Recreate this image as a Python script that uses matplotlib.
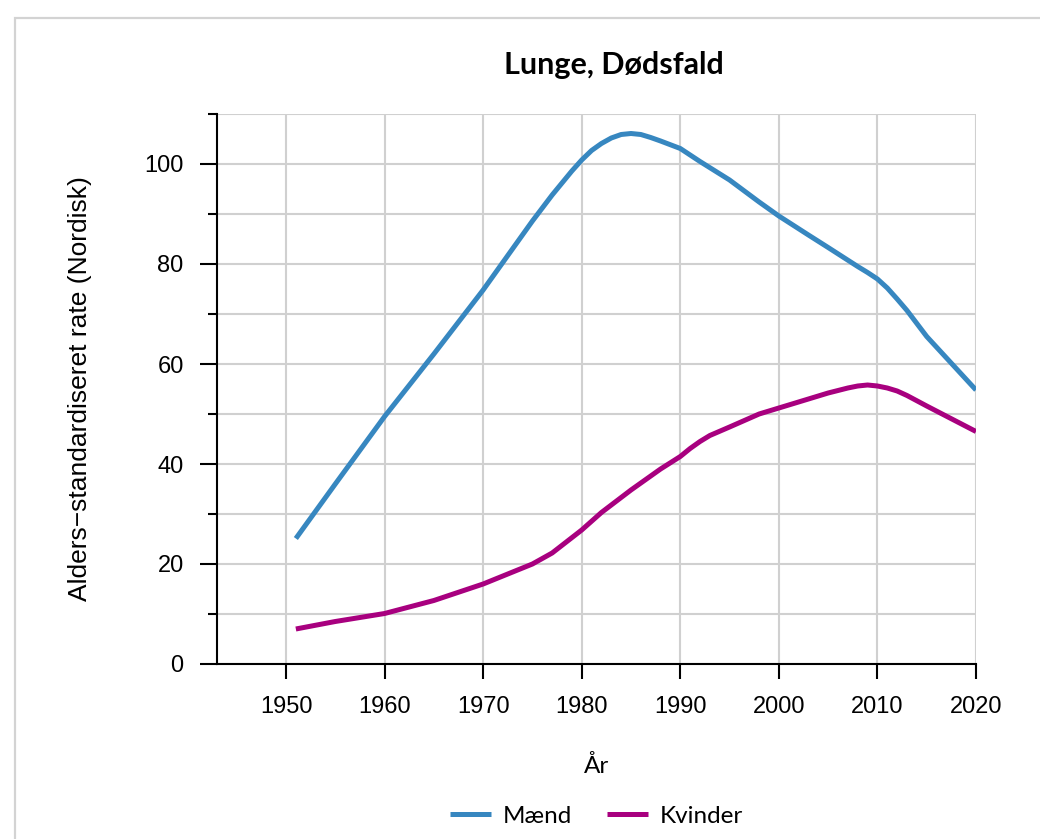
import matplotlib
matplotlib.use("Agg")
import matplotlib.pyplot as plt
from matplotlib.patches import Rectangle
from matplotlib.ticker import MultipleLocator

# values
years_m = [1951, 1955, 1960, 1965, 1970, 1975, 1977, 1979, 1980, 1981, 1982, 1983,
           1984, 1985, 1986, 1987, 1988, 1990, 1992, 1995, 1998, 2000, 2003,
           2005, 2008, 2009, 2010, 2011, 2012, 2013, 2015, 2020]
maend = [25.1, 36.0, 49.5, 62.0, 74.8, 88.6, 93.8, 98.6, 100.8, 102.7, 104.1, 105.2,
         105.9, 106.1, 105.9, 105.3, 104.6, 103.1, 100.5, 96.8, 92.4, 89.6, 85.8,
         83.3, 79.5, 78.3, 77.0, 75.2, 73.0, 70.7, 65.5, 54.8]

years_k = [1951, 1955, 1960, 1965, 1970, 1975, 1977, 1980, 1982, 1985, 1988,
           1990, 1991, 1992, 1993, 1995, 1998, 2000, 2003, 2005, 2007, 2008,
           2009, 2010, 2011, 2012, 2013, 2015, 2020]
kvinder = [7.0, 8.5, 10.1, 12.7, 16.0, 20.0, 22.2, 26.8, 30.3, 34.8, 39.0,
           41.5, 43.1, 44.5, 45.7, 47.4, 50.0, 51.2, 53.0, 54.2, 55.2, 55.6,
           55.8, 55.6, 55.2, 54.6, 53.7, 51.6, 46.5]

x_ticks = [1950, 1960, 1970, 1980, 1990, 2000, 2010, 2020]

blue = "#3787c0"
purple = "#a8007f"

plt.rcParams['font.family'] = ['Liberation Sans', 'DejaVu Sans']

fig = plt.figure(figsize=(10.4, 8.39), dpi=100)
fig.patches.append(Rectangle((15 / 1040, -0.1), 1.2, 1.1 - 18 / 839,
                             transform=fig.transFigure, fill=False,
                             edgecolor="#d3d3d3", linewidth=1.6))

ax = fig.add_axes([217 / 1040, 1 - 664 / 839, (976 - 217) / 1040, (664 - 114) / 839])

ax.plot(years_m, maend, color=blue, lw=3.6, solid_joinstyle='round',
        solid_capstyle='butt', label="Mænd")
ax.plot(years_k, kvinder, color=purple, lw=3.6, solid_joinstyle='round',
        solid_capstyle='butt', label="Kvinder")

ax.set_xlim(1943, 2020)
ax.set_ylim(0, 110)
ax.set_xticks(x_ticks)
ax.yaxis.set_major_locator(MultipleLocator(20))
ax.yaxis.set_minor_locator(MultipleLocator(10))

ax.grid(True, which='both', color="#d0d0d0", lw=1.5)
ax.set_axisbelow(True)

for s in ['top', 'right']:
    ax.spines[s].set_visible(False)
for s in ['left', 'bottom']:
    ax.spines[s].set_linewidth(1.5)

ax.tick_params(axis='x', length=11, width=1.5, labelsize=17, pad=12)
ax.tick_params(axis='y', which='major', length=12, width=1.5, labelsize=17, pad=12)
ax.tick_params(axis='y', which='minor', length=6.5, width=1.5)

ax.set_ylabel("Alders\u2212standardiseret rate (Nordisk)", fontsize=19, labelpad=38)

fig.text(614 / 1040, 1 - 65 / 839, "Lunge, Dødsfald", fontsize=22,
         fontweight='bold', family='Lato', ha='center', va='center')
fig.text(597 / 1040, 1 - 766 / 839, "År", fontsize=17.5, family='Lato',
         ha='center', va='center')

fig.legend(loc='center', bbox_to_anchor=(596.5 / 1040, 1 - 816 / 839), ncol=2,
           frameon=False, prop={'family': 'Lato', 'size': 17.5},
           handlelength=1.7, handletextpad=0.5, columnspacing=1.4)

fig.savefig("out.png", dpi=100)
